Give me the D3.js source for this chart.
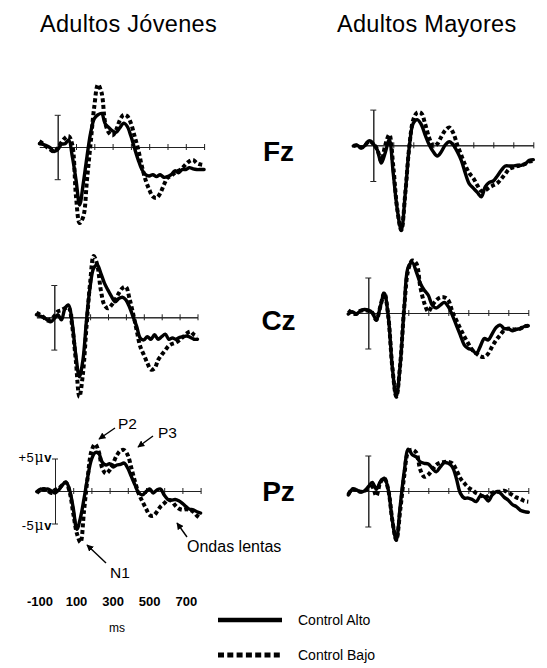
<!DOCTYPE html>
<html><head><meta charset="utf-8">
<script src="https://cdn.jsdelivr.net/npm/d3@7"></script>
<style>
html,body{margin:0;padding:0;background:#fff;}
svg{display:block;font-family:"Liberation Sans",Arial,sans-serif;}
</style></head>
<body>
<svg id="chart" width="547" height="668"></svg>
<script>
// ---- data (ms, µV) ----
const times = [-100,-80,-60,-40,-20,0,20,40,60,80,100,120,140,160,180,200,220,240,260,280,300,320,340,360,380,400,420,440,460,480,500,520,540,560,580,600,620,640,660,680,700,720,740,760,780,800];
const groupTitles = ["Adultos Jóvenes", "Adultos Mayores"];
const electrodes = ["Fz", "Cz", "Pz"];
const seriesNames = ["Control Alto", "Control Bajo"];
const msTickLabels = [-100, 100, 300, 500, 700];
const axisTicks = [100, 200, 300, 400, 500, 600, 700, 800];

// Adultos Jóvenes
const jovFzAlto = [0.5,0.4,0.2,-0.15,-0.7,-0.4,0.4,0.5,1.1,-1.5,-5.1,-9.0,-5.6,-1.5,2.2,4.4,5.0,5.2,3.6,3.0,2.5,2.3,3.0,3.7,3.2,1.7,-0.2,-2.0,-3.5,-4.3,-4.5,-4.3,-4.6,-4.3,-4.7,-4.6,-4.3,-3.7,-4.0,-3.5,-3.5,-3.2,-3.4,-3.5,-3.5,-3.5];
const jovFzBajo = [0.9,0.5,0,-0.4,-0.7,-0.2,0.7,1.4,1.7,0.3,-7.7,-11.8,-10.8,-5.1,0.6,6.3,9.7,8.4,3.7,2.2,1.8,2.7,4.2,5.0,4.8,3.7,1.7,-0.4,-3.0,-5.1,-6.6,-7.7,-7.9,-7.2,-5.9,-4.8,-4.5,-4.0,-3.7,-3.3,-2.7,-2.2,-2.0,-2.5,-2.7,-2.8];
const jovCzAlto = [0.4,0.2,0,-0.4,-0.7,-0.2,0.4,-0.4,1.4,1.9,-0.9,-5.8,-9.2,-6.6,-0.4,4.7,7.6,8.1,6.8,5.3,4.2,3.2,2.4,2.9,3.1,2.7,1.6,0.1,-1.4,-3.2,-3.5,-3.0,-3.4,-2.7,-3.4,-3.0,-2.6,-3.4,-3.2,-3.4,-3.1,-3.0,-2.9,-3.1,-3.4,-3.4];
const jovCzBajo = [0.7,0.4,0,-0.5,-0.3,0.2,0.9,1.1,1.4,1.5,-1.4,-6.6,-12.3,-8.7,-1.4,5.3,9.5,8.1,4.2,1.9,1.4,1.9,2.7,3.7,4.5,4.7,2.9,0.6,-2.0,-4.5,-5.8,-7.1,-8.1,-7.9,-6.6,-5.8,-5.1,-4.4,-4.1,-3.9,-3.5,-3.0,-2.5,-2.2,-2.7,-3.0];
const jovPzAlto = [-0.1,0.3,0.15,0.3,0,-0.3,0.15,0.9,1.4,0.15,-2.6,-5.9,-4.1,-1.1,2.2,4.8,5.9,5.8,4.4,4.0,4.2,3.7,4.0,4.1,4.3,3.5,2.2,0.9,-0.3,-0.6,-0.1,0.3,-0.3,0.15,0.3,-0.6,-1.3,-1.4,-1.3,-1.5,-1.9,-2.4,-2.8,-2.9,-3.2,-3.4];
const jovPzBajo = [-0.3,0.15,0.3,0.05,-0.3,0.15,0.4,0.9,1.3,-0.1,-3.4,-6.5,-7.9,-2.9,2.2,6.1,7.2,6.1,3.5,2.7,3.2,4.3,5.5,6.2,6.3,5.5,3.5,1.4,-0.4,-1.6,-2.7,-3.7,-3.8,-3.2,-2.4,-1.9,-1.4,-1.5,-2.2,-2.7,-2.9,-2.8,-2.9,-3.2,-3.8,-4.2];
// Adultos Mayores
const mayFzAlto = [-0.1,0,-0.4,0.05,0.65,0.2,-0.65,-2.5,-1.0,0.8,-4.0,-9.0,-11.9,-6.7,-0.2,3.1,3.6,2.9,1.4,0.05,-0.9,-1.5,-0.9,0.05,0.5,0.05,-0.9,-2.1,-3.9,-5.4,-6.0,-6.6,-7.2,-5.8,-5.2,-5.0,-4.3,-3.5,-2.9,-2.9,-2.9,-2.8,-2.8,-2.6,-2.1,-2.0];
const mayFzBajo = [-0.1,0,-0.3,0.05,0.6,0.2,-0.6,-2.2,0.05,1.5,-3.0,-9.0,-11.9,-6.7,-0.2,3.6,4.6,4.5,2.9,1.0,-0.1,0.2,1.2,2.1,2.5,1.7,0.05,-1.4,-2.8,-3.9,-4.6,-5.6,-6.4,-6.3,-5.9,-5.6,-5.3,-4.7,-4.0,-3.3,-3.1,-2.9,-2.8,-2.6,-2.3,-2.2];
const mayCzAlto = [-0.15,0.2,-0.15,0.3,0.5,0.4,0.05,-1.0,0.9,2.8,-0.5,-7.6,-11.8,-7.1,0.9,6.5,7.1,5.8,4.2,3.2,2.5,1.1,0.7,1.1,1.5,0.9,-0.3,-1.7,-3.1,-4.5,-5.0,-5.2,-5.7,-4.7,-3.6,-3.8,-2.9,-2.0,-1.7,-2.2,-2.2,-2.5,-2.3,-2.2,-1.9,-1.8];
const mayCzBajo = [0.4,0,-0.15,0.3,0.4,0.3,0.05,-1.0,0.9,2.8,-0.5,-7.6,-11.8,-7.1,0.9,6.1,7.4,7.0,3.7,1.4,0.2,1.1,1.8,2.2,2.2,1.8,0.2,-1.0,-2.2,-3.3,-4.3,-5.2,-5.7,-6.1,-6.2,-5.7,-4.7,-3.8,-3.1,-2.4,-2.2,-2.3,-2.3,-2.2,-1.9,-1.8];
const mayPzAlto = [-0.55,0.25,0.15,-0.1,0,0.6,1.2,0.25,1.3,1.8,0.15,-4.1,-6.9,-2.0,2.8,5.9,5.1,4.8,4.1,3.9,3.8,3.2,2.7,3.4,4.0,3.9,3.4,1.8,-0.3,-1.0,-1.0,-1.2,-1.5,-0.7,-0.8,-1.4,-0.55,-0.1,-0.3,-0.9,-1.3,-1.9,-2.2,-2.7,-2.9,-3.0];
const mayPzBajo = [-0.5,0.25,0.15,-0.1,0,0.3,0.6,-0.7,1.2,1.8,0.15,-4.1,-6.9,-2.6,2.2,5.5,5.8,5.4,3.0,2.0,2.3,3.0,3.7,4.0,4.1,4.1,3.9,3.0,1.8,1.1,0.5,0.15,-0.3,-0.55,-0.9,-0.7,-0.25,-0.1,-0.1,0.05,-0.25,-0.55,-0.9,-1.1,-1.4,-1.5];

// ---- layout (pixels) ----
const panels = [
  {x0:57.7,k:0.183,base:147,h:32.2,alto:jovFzAlto,bajo:jovFzBajo},
  {x0:54.3,k:0.179,base:317.3,h:32.3,alto:jovCzAlto,bajo:jovCzBajo},
  {x0:55,k:0.182,base:491,h:32.5,alto:jovPzAlto,bajo:jovPzBajo},
  {x0:373.3,k:0.2,base:145.3,h:35.7,alto:mayFzAlto,bajo:mayFzBajo},
  {x0:368.3,k:0.2,base:313,h:35.5,alto:mayCzAlto,bajo:mayCzBajo},
  {x0:368.3,k:0.2,base:491,h:35.5,alto:mayPzAlto,bajo:mayPzBajo}
];

const svg = d3.select("#chart");
svg.append("rect").attr("width",547).attr("height",668).attr("fill","#fff");

const defs = svg.append("defs");
defs.append("marker").attr("id","ah").attr("viewBox","0 0 10 10")
  .attr("refX",9).attr("refY",5).attr("markerWidth",7).attr("markerHeight",7)
  .attr("markerUnits","userSpaceOnUse").attr("orient","auto")
  .append("path").attr("d","M0,0 L10,5 L0,10 Z").attr("fill","#000");

// titles
const titleX = [40, 337];
groupTitles.forEach((t,i)=>{
  svg.append("text").attr("x",titleX[i]).attr("y",32).attr("font-size",23.5)
    .attr("letter-spacing","0.3px").attr("fill","#000").text(t);
});

const scales = [];
panels.forEach(p=>{
  const x = d3.scaleLinear().domain([-100,800]).range([p.x0-100*p.k, p.x0+800*p.k]);
  const y = d3.scaleLinear().domain([-5,5]).range([p.base+p.h, p.base-p.h]);
  scales.push({x,y});
  const g = svg.append("g");
  // time axis with crossing ticks
  [d3.axisBottom, d3.axisTop].forEach(fn=>{
    const a = g.append("g").attr("transform",`translate(0,${y(0)})`)
      .call(fn(x).tickValues(axisTicks).tickSizeInner(3).tickSizeOuter(0).tickFormat(""));
    a.selectAll("path,line").attr("stroke","#222").attr("stroke-width",1);
  });
  // voltage scale bar at t = 0
  [d3.axisLeft, d3.axisRight].forEach(fn=>{
    const a = g.append("g").attr("transform",`translate(${x(0)},0)`)
      .call(fn(y).tickValues([-5,5]).tickSizeInner(3).tickSizeOuter(0).tickFormat(""));
    a.selectAll("path,line").attr("stroke","#222").attr("stroke-width",1);
  });
  const line = d3.line().x((d,i)=>x(times[i])).y(d=>y(d)).curve(d3.curveCatmullRom.alpha(0.5));
  g.append("path").attr("d",line(p.bajo)).attr("fill","none").attr("stroke","#000")
    .attr("stroke-width",4).attr("stroke-dasharray","4,2.6");
  g.append("path").attr("d",line(p.alto)).attr("fill","none").attr("stroke","#000")
    .attr("stroke-width",3.4).attr("stroke-linejoin","round").attr("stroke-linecap","round");
});

// electrode labels
const elecY = [161, 330, 501];
electrodes.forEach((e,i)=>{
  svg.append("text").attr("x",278.5).attr("y",elecY[i]).attr("text-anchor","middle")
    .attr("font-size",28).attr("font-weight","bold").attr("fill","#000").text(e);
});

// µV labels on the Pz young panel
const pz = scales[2];
[[5,"+5",3.5],[-5,"-5",6]].forEach(([v,s,dy])=>{
  const t = svg.append("text").attr("x",52).attr("y",pz.y(v)+dy).attr("text-anchor","end")
    .attr("font-size",13).attr("letter-spacing","0.6px").attr("fill","#000");
  t.append("tspan").text(s);
  t.append("tspan").attr("font-family","DejaVu Serif, serif").attr("font-size",14).text("μ");
  t.append("tspan").attr("font-weight","bold").text("v");
});

// component annotations
const notes = [
  {t:"P2", tx:118, ty:429, x1:115, y1:428, x2:99, y2:439},
  {t:"P3", tx:158, ty:438, x1:153, y1:436, x2:138, y2:447},
  {t:"N1", tx:110, ty:578, x1:106, y1:563, x2:87, y2:545},
  {t:"Ondas lentas", tx:187, ty:552, x1:187, y1:537, x2:177, y2:523}
];
notes.forEach(n=>{
  svg.append("line").attr("x1",n.x1).attr("y1",n.y1).attr("x2",n.x2).attr("y2",n.y2)
    .attr("stroke","#000").attr("stroke-width",1.4).attr("marker-end","url(#ah)");
  svg.append("text").attr("x",n.tx).attr("y",n.ty).attr("font-size",n.t.length>3?16:15.5)
    .attr("fill","#000").text(n.t);
});

// ms axis labels (shared time scale of the first column)
const msAxis = svg.append("g").attr("transform","translate(0,594)")
  .call(d3.axisBottom(scales[0].x).tickValues(msTickLabels).tickSize(0).tickFormat(d=>d));
msAxis.select(".domain").remove();
msAxis.selectAll("text").attr("font-size",13).attr("font-weight","bold")
  .attr("font-family","Liberation Sans, Arial, sans-serif").attr("fill","#000");
svg.append("text").attr("x",117).attr("y",632).attr("text-anchor","middle")
  .attr("font-size",12).attr("fill","#000").text("ms");

// legend
const legY = [620, 655];
seriesNames.forEach((s,i)=>{
  svg.append("line").attr("x1",218).attr("x2",282).attr("y1",legY[i]).attr("y2",legY[i])
    .attr("stroke","#000").attr("stroke-width",i===0?4.5:5)
    .attr("stroke-dasharray",i===0?null:"6,3.3");
  svg.append("text").attr("x",298).attr("y",legY[i]+5).attr("font-size",14)
    .attr("fill","#000").text(s);
});
</script>
</body></html>
